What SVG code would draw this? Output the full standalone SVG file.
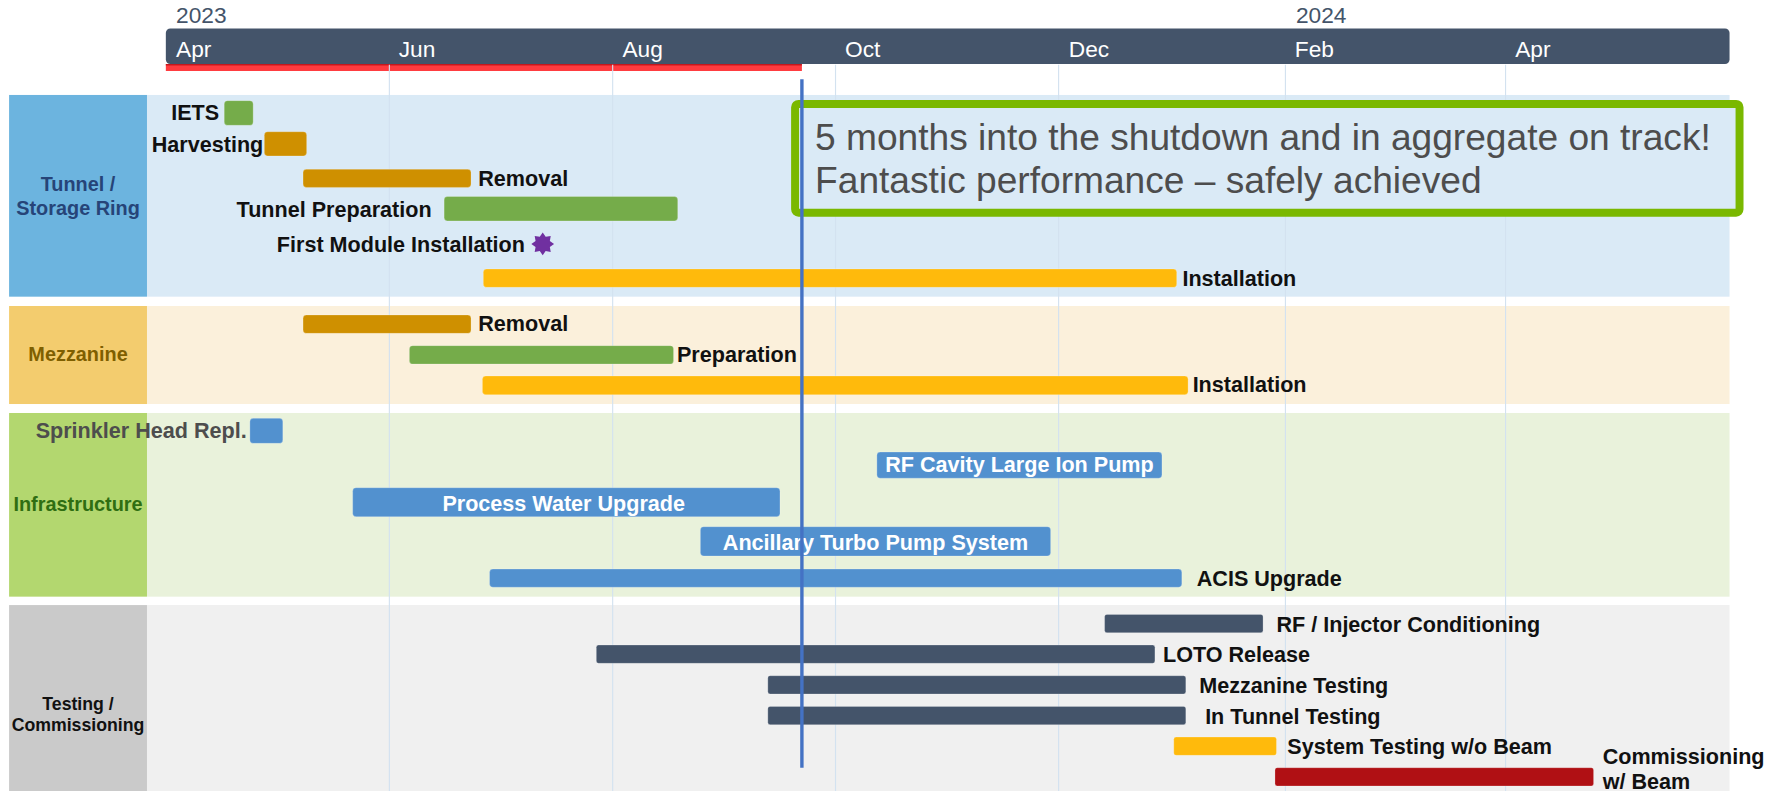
<svg xmlns="http://www.w3.org/2000/svg" width="1781" height="791" viewBox="0 0 1781 791">
<style>
text{font-family:"Liberation Sans",Arial,sans-serif}
.mon{font-size:20px;fill:#ffffff}
.yr{font-size:20px;fill:#44546A}
.lane{font-size:17.5px;font-weight:bold;text-anchor:middle}
.lbl{font-size:19px;font-weight:bold;fill:#111111}
.end{text-anchor:end}
.in{font-size:19px;font-weight:bold;fill:#ffffff;text-anchor:middle}
.grid{stroke:#D3E2F0;stroke-width:1}
.bar{stroke:#ffffff;stroke-opacity:0.25;stroke-width:0.8}
.g{fill:#75AC4A}.o{fill:#CF9000}.y{fill:#FFBA0C}.b{fill:#5291CF}.d{fill:#44546A}.r{fill:#B01014}
.call{font-size:32.7px;fill:#4D4D4D}
</style>
<g transform="scale(1.13584)">
<g id="header">
<rect x="146" y="56.4" width="560" height="6.1" fill="#FF3B3F"/>
<rect x="146" y="56.4" width="560" height="1.2" fill="#C0161B"/>
<rect x="146" y="25" width="1376.7" height="31.4" rx="4" fill="#44546A"/>
<text class="yr" x="155" y="20.5">2023</text>
<text class="yr" x="1141" y="20.5">2024</text>
<text class="mon" x="155" y="49.9">Apr</text>
<text class="mon" x="351" y="49.9">Jun</text>
<text class="mon" x="548" y="49.9">Aug</text>
<text class="mon" x="744" y="49.9">Oct</text>
<text class="mon" x="941" y="49.9">Dec</text>
<text class="mon" x="1140" y="49.9">Feb</text>
<text class="mon" x="1334" y="49.9">Apr</text>
</g>
<g id="lanes">
<g id="lane-tunnel">
<rect x="129.4" y="83.6" width="1393.3" height="177.6" fill="#DAEAF6"/>
<rect x="8" y="83.6" width="121.4" height="177.6" fill="#6CB4DF"/>
<text class="lane" x="68.7" y="167.9" fill="#264478">Tunnel /</text>
<text class="lane" x="68.7" y="189.3" fill="#264478">Storage Ring</text>
</g>
<g id="lane-mezzanine">
<rect x="129.4" y="269.4" width="1393.3" height="86.3" fill="#FBF0DB"/>
<rect x="8" y="269.4" width="121.4" height="86.3" fill="#F3CC6E"/>
<text class="lane" x="68.7" y="317.6" fill="#7F5F00">Mezzanine</text>
</g>
<g id="lane-infrastructure">
<rect x="129.4" y="363.6" width="1393.3" height="161.7" fill="#E9F2DB"/>
<rect x="8" y="363.6" width="121.4" height="161.7" fill="#B3D76F"/>
<text class="lane" x="68.7" y="449.6" fill="#2F6E12">Infrastructure</text>
</g>
<g id="lane-testing">
<rect x="129.4" y="532.7" width="1393.3" height="170" fill="#F0F0F0"/>
<rect x="8" y="532.7" width="121.4" height="170" fill="#CACACA"/>
<text class="lane" x="68.7" y="625" fill="#111111" style="font-size:15.6px">Testing /</text>
<text class="lane" x="68.7" y="643.3" fill="#111111" style="font-size:15.6px">Commissioning</text>
</g>
</g>
<g id="gridlines">
<line class="grid" x1="342.8" y1="57" x2="342.8" y2="700"/>
<line class="grid" x1="539.4" y1="57" x2="539.4" y2="700"/>
<line class="grid" x1="735.6" y1="57" x2="735.6" y2="700"/>
<line class="grid" x1="932" y1="57" x2="932" y2="700"/>
<line class="grid" x1="1131.7" y1="57" x2="1131.7" y2="700"/>
<line class="grid" x1="1325.5" y1="57" x2="1325.5" y2="700"/>
</g>
<g id="tasks">
<g id="t-iets"><rect class="bar g" x="197.4" y="88.6" width="25.5" height="21.7" rx="3"/><text class="lbl end" x="193" y="106">IETS</text></g>
<g id="t-harvesting"><rect class="bar o" x="232.7" y="116" width="37.3" height="21.3" rx="3"/><text class="lbl end" x="231.8" y="133.5">Harvesting</text></g>
<g id="t-removal1"><rect class="bar o" x="266.8" y="149" width="147.9" height="16" rx="3"/><text class="lbl" x="421" y="163.5">Removal</text></g>
<g id="t-tunnelprep"><rect class="bar g" x="391" y="173" width="205.7" height="21.5" rx="3"/><text class="lbl end" x="380" y="190.8">Tunnel Preparation</text></g>
<g id="t-firstmodule"><polygon fill="#7030A0" transform="translate(477.8,214.8)" points="0,-10 2.6,-6.28 7.07,-7.07 6.28,-2.6 10,0 6.28,2.6 7.07,7.07 2.6,6.28 0,10 -2.6,6.28 -7.07,7.07 -6.28,2.6 -10,0 -6.28,-2.6 -7.07,-7.07 -2.6,-6.28"/><text class="lbl end" x="462.2" y="221.6">First Module Installation</text></g>
<g id="t-installation1"><rect class="bar y" x="425.5" y="236.8" width="610.5" height="16.2" rx="3"/><text class="lbl" x="1041" y="252">Installation</text></g>
<g id="m-removal"><rect class="bar o" x="266.8" y="277.3" width="147.9" height="16.2" rx="3"/><text class="lbl" x="421" y="291.5">Removal</text></g>
<g id="m-preparation"><rect class="bar g" x="360.4" y="304.3" width="232.6" height="16.2" rx="3"/><text class="lbl" x="596" y="318.5">Preparation</text></g>
<g id="m-installation"><rect class="bar y" x="424.7" y="331" width="621.3" height="16.5" rx="3"/><text class="lbl" x="1050" y="345">Installation</text></g>
<g id="i-sprinkler"><rect class="bar b" x="220" y="368.3" width="29" height="22" rx="3"/><text class="lbl end" x="217.2" y="385.9" style="fill:#4D4D4D">Sprinkler Head Repl.</text></g>
<g id="i-rfcavity"><rect class="bar b" x="772" y="398" width="251" height="23" rx="3"/><text class="in" x="897.5" y="415.5">RF Cavity Large Ion Pump</text></g>
<g id="i-processwater"><rect class="bar b" x="310.5" y="429.4" width="376.2" height="25.5" rx="3"/><text class="in" x="496.3" y="449.6">Process Water Upgrade</text></g>
<g id="i-ancillary"><rect class="bar b" x="616.6" y="463.7" width="308.4" height="25.8" rx="3"/><text class="in" x="770.8" y="484.2">Ancillary Turbo Pump System</text></g>
<g id="i-acis"><rect class="bar b" x="431" y="501" width="609.5" height="16" rx="3"/><text class="lbl" x="1053.6" y="516">ACIS Upgrade</text></g>
<g id="c-rfinjector"><rect class="bar d" x="972.5" y="540.9" width="139.5" height="16.1" rx="2"/><text class="lbl" x="1123.8" y="556">RF / Injector Conditioning</text></g>
<g id="c-loto"><rect class="bar d" x="525" y="567.9" width="491.8" height="16.1" rx="2"/><text class="lbl" x="1023.9" y="582.6">LOTO Release</text></g>
<g id="c-mezztesting"><rect class="bar d" x="676" y="594.9" width="368" height="16.1" rx="2"/><text class="lbl" x="1055.8" y="610">Mezzanine Testing</text></g>
<g id="c-tunneltesting"><rect class="bar d" x="676" y="621.9" width="368" height="16.1" rx="2"/><text class="lbl" x="1061" y="637">In Tunnel Testing</text></g>
<g id="c-systemtesting"><rect class="bar y" x="1033.4" y="648.9" width="90.4" height="16.1" rx="2"/><text class="lbl" x="1133.4" y="664.2">System Testing w/o Beam</text></g>
<g id="c-commissioning"><rect class="bar r" x="1122.5" y="675.9" width="280.5" height="16.1" rx="2"/><text class="lbl" x="1411" y="672.7">Commissioning</text><text class="lbl" x="1411" y="695">w/ Beam</text></g>
</g>
<g id="callout">
<rect x="700" y="91.5" width="831.5" height="95.8" rx="3" fill="#DAEAF6" stroke="#7AB800" stroke-width="7"/>
<text class="call" x="717.6" y="132">5 months into the shutdown and in aggregate on track!</text>
<text class="call" x="717.6" y="170.2">Fantastic performance – safely achieved</text>
</g>
<g id="connectors">
<line x1="706" y1="69.8" x2="706" y2="676" stroke="#4472C4" stroke-width="3"/>
</g>
</g>
</svg>
